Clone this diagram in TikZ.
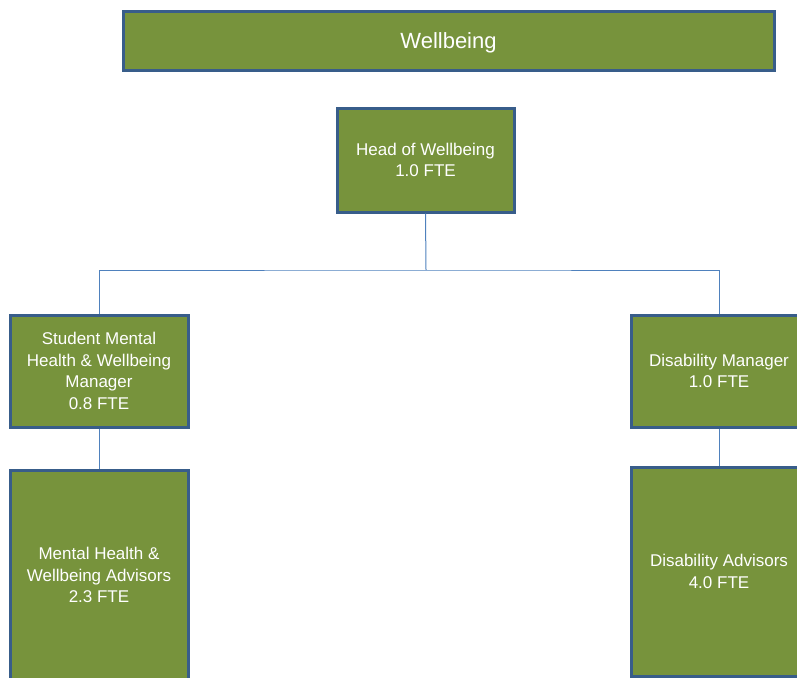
\documentclass[tikz,border=0pt]{standalone}
\usepackage{fontspec}
\setmainfont{Liberation Sans}
\definecolor{boxfill}{HTML}{77933C}
\definecolor{boxline}{HTML}{385D8A}
\definecolor{conn}{HTML}{4F81BD}
\begin{document}
\begin{tikzpicture}[x=1pt,y=-1pt,
  orgbox/.style={draw=boxline, line width=3pt, fill=boxfill, text=white,
    align=center, inner sep=0pt, font=\fontsize{17}{21.5}\selectfont},
  link/.style={draw=conn, line width=1pt}]
\useasboundingbox (0,0) rectangle (797,677);
\clip (0,0) rectangle (797,677);
\node[orgbox, minimum width=651pt, minimum height=59pt, text depth=0pt, font=\fontsize{22}{26}\selectfont] (top) at (448.5,41) {Wellbeing};
\node[orgbox, minimum width=177pt, minimum height=104pt] (head) at (425.5,160) {Head of Wellbeing\\1.0 FTE};
\node[orgbox, minimum width=178pt, minimum height=112pt] (smh) at (99,371) {Student Mental\\Health \& Wellbeing\\Manager\\0.8 FTE};
\node[orgbox, minimum width=176pt, minimum height=112pt] (dm) at (719,371) {Disability Manager\\1.0 FTE};
\node[orgbox, minimum width=178pt, minimum height=210pt] (mhwa) at (99,575) {Mental Health \&\\Wellbeing Advisors\\2.3 FTE};
\node[orgbox, minimum width=176pt, minimum height=209pt] (da) at (719,571.5) {Disability Advisors\\4.0 FTE};
\coordinate (bus) at (426,270);
\draw[link] (head.south) -- (bus);
\draw[link] (smh.north) |- (bus) -| (dm.north);
\draw[link] (smh.south) -- (mhwa.north);
\draw[link] (dm.south) -- (da.north);
\end{tikzpicture}
\end{document}
